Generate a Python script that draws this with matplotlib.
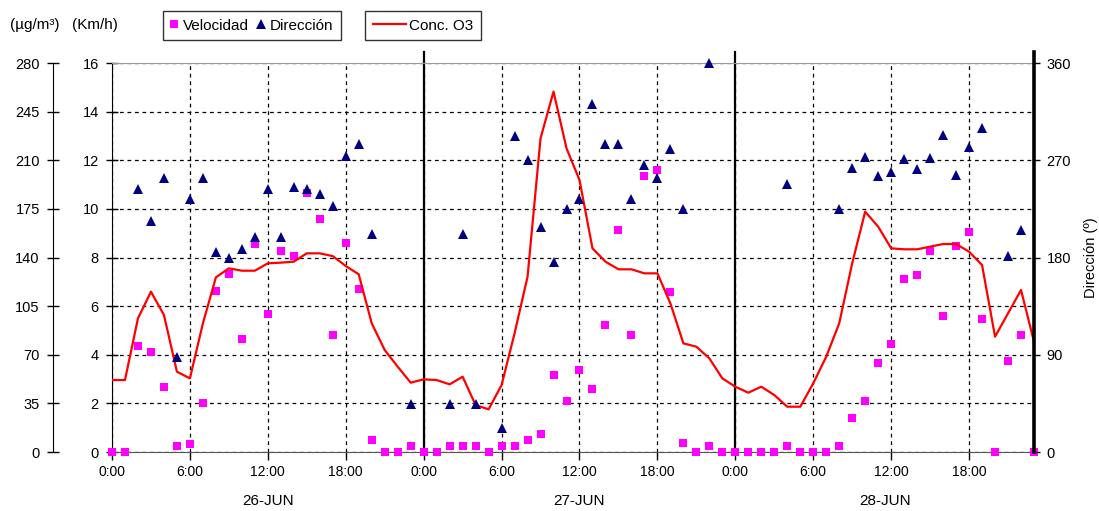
import numpy as np
import matplotlib
matplotlib.use("Agg")
import matplotlib.pyplot as plt
from matplotlib.lines import Line2D
import matplotlib.transforms as mtransforms

plt.rcParams['font.family'] = ['Liberation Sans', 'DejaVu Sans']

# ---------------- data ----------------
hours = list(range(72))

velocidad = [0, 0, 4.37, 4.1, 2.67, 0.26, 0.32, 2.0, 6.64, 7.32, 4.63, 8.54,
             5.69, 8.28, 8.06, 10.64, 9.58, 4.8, 8.6, 6.69, 0.48, 0, 0, 0.26,
             0, 0, 0.26, 0.26, 0.26, 0, 0.26, 0.26, 0.48, 0.73, 3.17, 2.1,
             3.37, 2.59, 5.22, 9.13, 4.8, 11.35, 11.6, 6.58, 0.36, 0, 0.26, 0,
             0, 0, 0, 0, 0.26, 0, 0, 0, 0.26, 1.41, 2.1, 3.65,
             4.43, 7.12, 7.27, 8.28, 5.58, 8.49, 9.06, 5.48, 0, 3.74, 4.8, 0]

nan = np.nan
direccion = [nan, nan, 243, 214, 254, 88, 234, 254, 185, 180, 188, 199,
             243, 199, 245, 243, 239, 228, 274, 285, 202, nan, nan, 44,
             nan, nan, 44, 202, 44, nan, 22, 292, 270, 208, 176, 225,
             234, 322, 285, 285, 234, 266, 254, 280, 225, nan, 360, nan,
             nan, nan, nan, nan, 248, nan, nan, nan, 225, 263, 273, 255,
             259, 271, 262, 272, 293, 256, 282, 300, nan, 181, 205, nan]

conc_o3 = [51.8, 51.8, 96.2, 115.4, 98.6, 57.8, 53, 92.6, 125.7, 132.2, 130.5, 130.5,
           135.8, 136.3, 137, 143, 143, 141, 133.9, 127.9, 92.6, 73.4, 61.4, 49.9,
           52.3, 51.8, 48.7, 54.2, 33.8, 30.7, 48.2, 85.4, 126.2, 225.8, 259.4, 218.6,
           195.8, 146.6, 137, 131.5, 131.5, 128.6, 128.6, 107, 78.2, 75.8, 67.4, 53,
           47, 42.7, 47, 41, 32.6, 32.6, 49.4, 68.6, 92.6, 135.8, 173, 162.2,
           146.6, 145.9, 145.9, 147.8, 149.7, 149.7, 144.2, 134.6, 83, 99.8, 116.6, 79.4]

x_ticks = [0, 6, 12, 18, 24, 30, 36, 42, 48, 54, 60, 66]
x_labels = ["0:00", "6:00", "12:00", "18:00", "0:00", "6:00", "12:00", "18:00",
            "0:00", "6:00", "12:00", "18:00"]
day_boundaries = [24, 48]
day_labels = ["26-JUN", "27-JUN", "28-JUN"]
day_label_pos = [12, 36, 59.5]

conc_ticks = [0, 35, 70, 105, 140, 175, 210, 245, 280]
vel_ticks = [0, 2, 4, 6, 8, 10, 12, 14, 16]
dir_ticks = [0, 90, 180, 270, 360]

# ---------------- figure ----------------
W, H = 1099, 511
fig = plt.figure(figsize=(W / 100, H / 100), dpi=100)
L, R, T, B = 112, 1034, 63, 452
ax = fig.add_axes([L / W, 1 - B / H, (R - L) / W, (B - T) / H])
FS = 10.5

ax.set_xlim(0, 71)
ax.set_ylim(0, 16)
ax.set_yticks(vel_ticks)
ax.tick_params(axis='y', direction='inout', length=9, width=1, labelsize=FS, pad=5, colors='black')
ax.set_xticks(x_ticks)
ax.set_xticklabels(x_labels)
ax.tick_params(axis='x', direction='out', length=6, width=1, labelsize=FS - 0.5, pad=3)

ax.spines['top'].set_color('#9a9a9a')
ax.spines['right'].set_visible(False)
ax.spines['bottom'].set_color('#555555')
ax.spines['left'].set_color('black')

ax.grid(True, axis='both', color='black', linestyle=(0, (3, 3)), linewidth=0.9)
ax.set_axisbelow(True)

for d in day_boundaries:
    ax.axvline(d, ymin=0, ymax=1.028, color='black', linewidth=1.6, clip_on=False, zorder=1)

ax.plot(hours, velocidad, linestyle='none', marker='s', markersize=5.5,
        color='#ff00ff', markeredgewidth=0, zorder=3, clip_on=False)

trans = mtransforms.blended_transform_factory(ax.transData, ax.transAxes)
for pos, lab in zip(day_label_pos, day_labels):
    ax.text(pos, -0.125, lab, transform=trans, ha='center', va='center', fontsize=FS + 0.5)

# concentration axis (outer left)
ax_c = ax.twinx()
ax_c.set_ylim(0, 280)
ax_c.spines['left'].set_visible(True)
ax_c.spines['left'].set_position(('outward', 42.5))
ax_c.spines['right'].set_visible(False)
ax_c.spines['top'].set_visible(False)
ax_c.spines['bottom'].set_visible(False)
ax_c.yaxis.set_ticks_position('left')
ax_c.yaxis.set_label_position('left')
ax_c.set_yticks(conc_ticks)
ax_c.tick_params(axis='y', direction='inout', length=9, width=1, labelsize=FS, pad=5)
ax_c.plot(hours, conc_o3, color='#ff0000', linewidth=1.6, zorder=4)

# direction axis (right)
ax_d = ax.twinx()
ax_d.set_ylim(0, 360)
ax_d.set_yticks(dir_ticks)
for side in ['left', 'top', 'bottom', 'right']:
    ax_d.spines[side].set_visible(False)
ax_d.tick_params(axis='y', direction='out', length=4, width=1, labelsize=FS, pad=5)
ax_d.axvline(71, ymin=0, ymax=1.028, color='black', linewidth=2.6, clip_on=False)
ax_d.plot(hours, direccion, linestyle='none', marker='^', markersize=6.5,
          color='#000080', markeredgewidth=0, zorder=5, clip_on=False)
ax_d.set_ylabel('Dirección (º)', fontsize=FS, labelpad=9)

# header texts
fig.text(10 / W, 1 - 25 / H, '(µg/m³)', fontsize=FS + 0.5, ha='left', va='center')
fig.text(72 / W, 1 - 25 / H, '(Km/h)', fontsize=FS + 0.5, ha='left', va='center')

# legends
h_vel = Line2D([], [], linestyle='none', marker='s', markersize=5.5, color='#ff00ff', markeredgewidth=0)
h_dir = Line2D([], [], linestyle='none', marker='^', markersize=6.5, color='#000080', markeredgewidth=0)
h_o3 = Line2D([], [], color='#ff0000', linewidth=1.6)

leg1 = fig.legend([h_vel, h_dir], ['Velocidad', 'Dirección'], ncol=2,
                  loc='upper left', bbox_to_anchor=(163 / W, 1 - 11 / H),
                  frameon=True, fancybox=False, fontsize=FS + 0.5, handlelength=0.5,
                  handletextpad=0.3, columnspacing=0.55, borderpad=0.5,
                  borderaxespad=0)
leg1.get_frame().set_edgecolor('black')
leg1.get_frame().set_linewidth(1)

leg2 = fig.legend([h_o3], ['Conc. O3'], loc='upper left',
                  bbox_to_anchor=(365 / W, 1 - 11 / H),
                  frameon=True, fancybox=False, fontsize=FS + 0.5, handlelength=2.2,
                  handletextpad=0.2, borderpad=0.5, borderaxespad=0)
leg2.get_frame().set_edgecolor('black')
leg2.get_frame().set_linewidth(1)

fig.savefig('out.png', dpi=100)
